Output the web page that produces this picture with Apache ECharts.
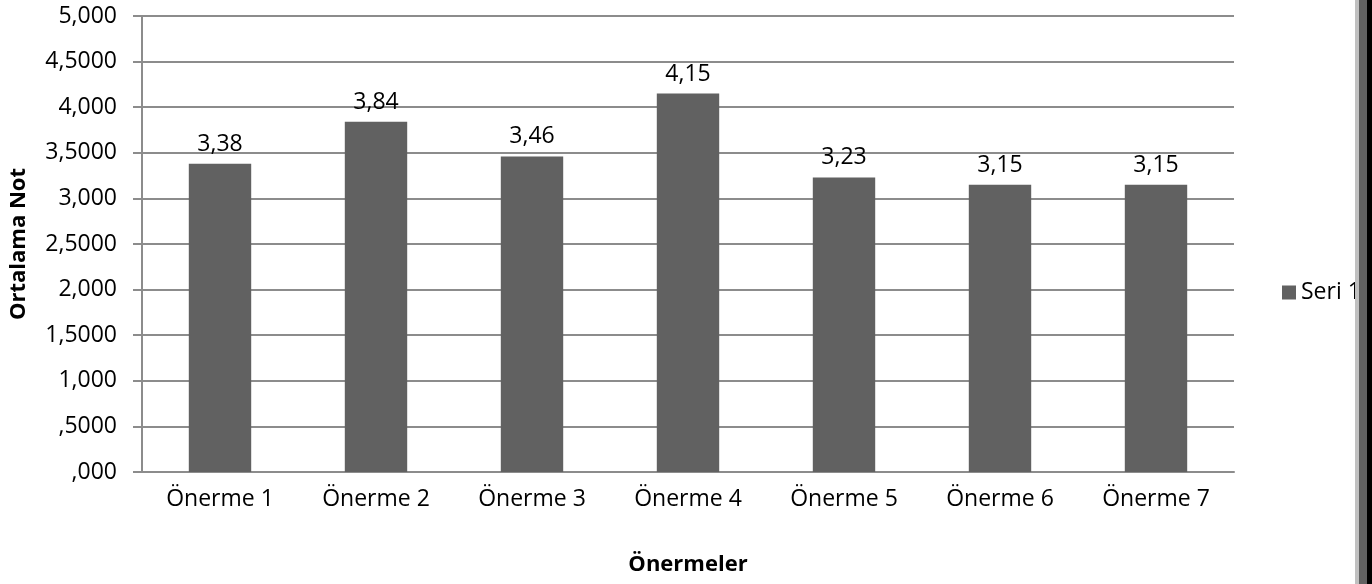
<!DOCTYPE html>
<html lang="tr">
<head>
  <meta charset="utf-8">
  <style>
    html, body { margin: 0; padding: 0; width: 100%; height: 100%; overflow: hidden; background: #fff; }
  </style>
  <script src="https://cdn.jsdelivr.net/npm/echarts@6/dist/echarts.min.js"></script>
</head>
<body>
  <div id="container" style="width:1372px;height:584px;"></div>
  <script>
    // data
    var categories = ['Önerme 1', 'Önerme 2', 'Önerme 3', 'Önerme 4', 'Önerme 5', 'Önerme 6', 'Önerme 7'];
    var seri1 = [3.38, 3.84, 3.46, 4.15, 3.23, 3.15, 3.15];
    var yTickLabels = [',000', ',5000', '1,000', '1,5000', '2,000', '2,5000', '3,000', '3,5000', '4,000', '4,5000', '5,000'];

    var font = '"Open Sans", "Liberation Sans", sans-serif';
    var chart = echarts.init(document.getElementById('container'), null, { renderer: 'canvas' });

    var option = {
      animation: false,
      backgroundColor: '#ffffff',
      grid: { left: 142, right: 138, top: 16, bottom: 112, containLabel: false },
      legend: {
        data: ['Seri 1'],
        orient: 'vertical',
        left: 1277,
        top: 276,
        icon: 'rect',
        itemWidth: 14,
        itemHeight: 14,
        itemGap: 6,
        textStyle: { fontFamily: font, fontSize: 23, color: '#000' }
      },
      xAxis: {
        type: 'category',
        data: categories,
        name: 'Önermeler',
        nameLocation: 'middle',
        nameGap: 82,
        nameTextStyle: { fontFamily: font, fontSize: 22, fontWeight: 'bold', color: '#000' },
        axisLine: { lineStyle: { color: '#8c8c8c', width: 2 } },
        axisTick: { show: false },
        axisLabel: { fontFamily: font, fontSize: 23, color: '#000', margin: 16 }
      },
      yAxis: {
        type: 'value',
        min: 0,
        max: 5,
        interval: 0.5,
        name: 'Ortalama Not',
        nameLocation: 'middle',
        nameGap: 112,
        nameTextStyle: { fontFamily: font, fontSize: 22, fontWeight: 'bold', color: '#000' },
        axisLine: { show: true, lineStyle: { color: '#8c8c8c', width: 2 } },
        axisTick: { show: true, length: 9, lineStyle: { color: '#8c8c8c', width: 2 } },
        splitLine: { lineStyle: { color: '#8c8c8c', width: 2 } },
        axisLabel: {
          fontFamily: font, fontSize: 23, color: '#000', margin: 25,
          formatter: function (v) { return yTickLabels[Math.round(v * 2)]; }
        }
      },
      series: [{
        name: 'Seri 1',
        type: 'bar',
        data: seri1,
        barWidth: '40%',
        itemStyle: { color: '#616161' },
        label: {
          show: true,
          position: 'top',
          distance: 8,
          fontFamily: font,
          fontSize: 23,
          color: '#000',
          formatter: function (p) { return p.value.toFixed(2).replace('.', ','); }
        }
      }],
      // frame edge on the right of the picture (covers the end of the legend text)
      graphic: [
        { type: 'rect', z: 100, shape: { x: 1355, y: 0, width: 4, height: 584 }, style: { fill: '#c0c0c0' } },
        { type: 'rect', z: 100, shape: { x: 1359, y: 0, width: 8, height: 584 }, style: { fill: '#616161' } },
        { type: 'rect', z: 100, shape: { x: 1367, y: 0, width: 5, height: 584 }, style: { fill: '#000000' } }
      ]
    };

    chart.setOption(option);
  </script>
</body>
</html>
